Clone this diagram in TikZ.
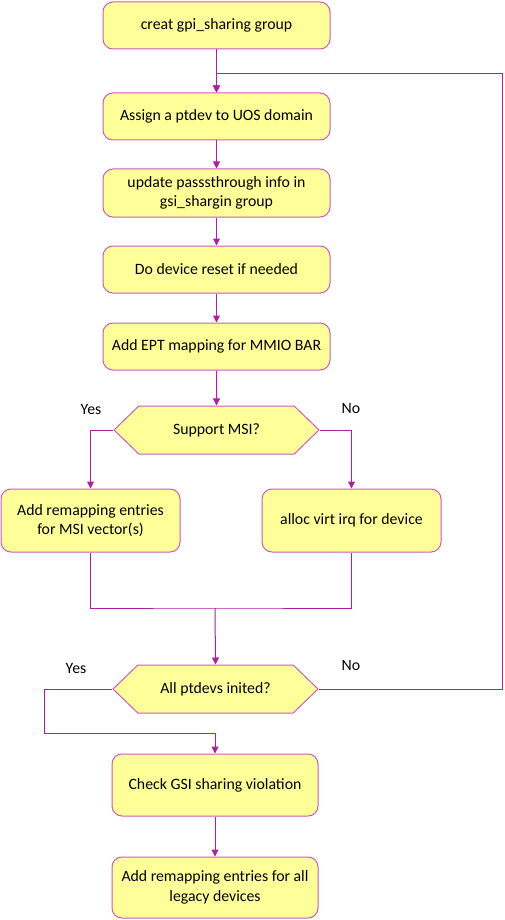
\documentclass[tikz,border=0pt]{standalone}
\usepackage{fontspec}
\setmainfont{Carlito}
\usetikzlibrary{arrows.meta,shapes.symbols}
\definecolor{boxfill}{RGB}{255,255,153}
\definecolor{boxline}{RGB}{204,90,190}
\definecolor{conn}{RGB}{178,30,160}
\begin{document}
\begin{tikzpicture}[x=1pt,y=-1pt,
  font=\fontsize{15.8}{19.5}\selectfont,
  stepbox/.style={draw=boxline,fill=boxfill,line width=1pt,rounded corners=10pt,
    align=center,inner sep=0pt},
  decide/.style={draw=boxline,fill=boxfill,line width=1pt,shape=signal,
    signal to=west and east,signal pointer angle=88,inner sep=0pt,
    minimum width=205pt,minimum height=48pt},
  flow/.style={draw=conn,line width=1pt,-{Triangle[length=7pt,width=7pt]}},
  plain/.style={draw=conn,line width=1pt},
  lbl/.style={inner sep=0pt}]
\useasboundingbox (0,0) rectangle (504,920);
\node[stepbox,minimum width=227pt,minimum height=47pt] (b1) at (216.5,25.5) {creat gpi\_sharing group};
\node[stepbox,minimum width=227pt,minimum height=47pt] (b2) at (216.5,116.5) {Assign a ptdev to UOS domain};
\node[stepbox,minimum width=227pt,minimum height=48pt] (b3) at (216.5,193) {update passsthrough info in\\gsi\_shargin group};
\node[stepbox,minimum width=227pt,minimum height=47pt] (b4) at (216.5,269.5) {Do device reset if needed};
\node[stepbox,minimum width=227pt,minimum height=47pt] (b5) at (216.5,346.5) {Add EPT mapping for MMIO BAR};
\node[decide] (d1) at (216.5,430) {Support MSI?};
\node[stepbox,minimum width=179pt,minimum height=63pt] (bl) at (90.5,520.5) {Add remapping entries\\for MSI vector(s)};
\node[stepbox,minimum width=179pt,minimum height=63pt] (br) at (351.5,520.5) {alloc virt irq for device};
\node[decide] (d2) at (215.5,689) {All ptdevs inited?};
\node[stepbox,minimum width=206pt,minimum height=62pt] (b6) at (215,785) {Check GSI sharing violation};
\node[stepbox,minimum width=206pt,minimum height=61pt] (b7) at (215,887.5) {Add remapping entries for all\\legacy devices};
\coordinate (m) at (215,608);
\coordinate (cr) at (502,74);
\coordinate (cy) at (44,733);
\node[lbl] (y1) at (91,409) {Yes};
\node[lbl] (n1) at (351,408) {No};
\node[lbl] (y2) at (76,668) {Yes};
\node[lbl] (n2) at (351,665) {No};
\draw[flow] (b1) -- (b2);
\draw[flow] (b2) -- (b3);
\draw[flow] (b3) -- (b4);
\draw[flow] (b4) -- (b5);
\draw[flow] (b5) -- (d1);
\draw[flow] (d1.west) -| (bl.north);
\draw[flow] (d1.east) -| (br.north);
\draw[plain] (bl.south) |- (m) -| (br.south);
\draw[flow] (m) -- (d2.north);
\draw[flow] (d2.east) -| (cr) -| (b2.north);
\draw[flow] (d2.west) -| (cy) -| (b6.north);
\draw[flow] (b6) -- (b7);
\end{tikzpicture}
\end{document}
